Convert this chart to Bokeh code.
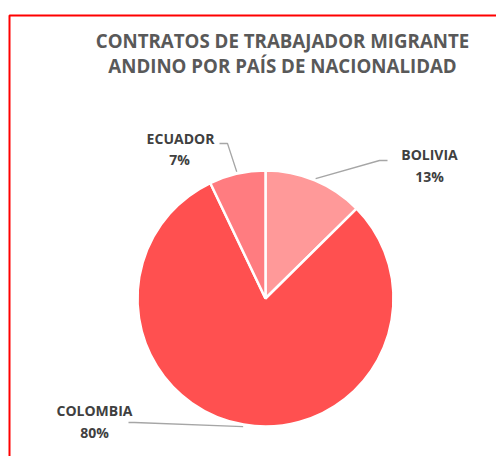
import math
from bokeh.plotting import figure
from bokeh.models import Range1d, ColumnDataSource
from bokeh.core.properties import value
from bokeh.embed import file_html
from bokeh.resources import INLINE

# ---- data ----
countries = ["BOLIVIA", "COLOMBIA", "ECUADOR"]
shares = [12.6, 80.3, 7.1]
colors = ["#FF9999", "#FF5050", "#FF7C80"]
title_lines = ["CONTRATOS DE TRABAJADOR MIGRANTE", "ANDINO POR PAÍS DE NACIONALIDAD"]

# ---- layout (pixel-like units) ----
W, H = 496, 456
FONT = "Open Sans"

def pg(px, py):
    return px, H - py

CX, CY = pg(265, 298)
R = 128

p = figure(width=W, height=H, output_backend="svg", toolbar_location=None,
           x_range=Range1d(0, W), y_range=Range1d(0, H), min_border=0,
           outline_line_color=None, background_fill_color="white",
           border_fill_color="white")
p.axis.visible = False
p.grid.visible = False

total = sum(shares)
starts, ends, mids = [], [], []
cum = 0.0
for s in shares:
    a0 = math.pi / 2 - 2 * math.pi * cum / total
    cum += s
    a1 = math.pi / 2 - 2 * math.pi * cum / total
    starts.append(a0)
    ends.append(a1)
    mids.append((a0 + a1) / 2)

src = ColumnDataSource(dict(start=starts, end=ends, color=colors))
p.wedge(x=CX, y=CY, radius=R, start_angle="start", end_angle="end",
        direction="clock", fill_color="color", line_color="white",
        line_width=2.5, source=src)

# label positions (page coords) and leader elbows
label_pos = {
    "BOLIVIA": ((429, 154), (429, 176), [(379, 160), (387, 160)]),
    "COLOMBIA": ((94, 410), (94, 432), [(134, 422), (128, 422)]),
    "ECUADOR": ((180, 138), (179, 159), [(227, 143), (219, 143)]),
}
for name, sh, mid in zip(countries, shares, mids):
    (nx, ny), (qx, qy), elbow = label_pos[name]
    sx = CX + 130 * math.cos(mid)
    sy = CY + 130 * math.sin(mid)
    xs = [sx] + [pg(*e)[0] for e in elbow]
    ys = [sy] + [pg(*e)[1] for e in elbow]
    p.line(xs, ys, line_color="#A6A6A6", line_width=1.3)
    x1, y1 = pg(nx, ny)
    x2, y2 = pg(qx, qy)
    p.text(x=[x1, x2], y=[y1, y2], text=[name, f"{round(sh)}%"],
           text_align="center", text_baseline="middle",
           text_font=value(FONT), text_font_style="bold",
           text_font_size="14px", text_color="#404040")

tx, ty1 = pg(282, 40)
_, ty2 = pg(282, 65)
p.text(x=[tx, tx], y=[ty1, ty2], text=title_lines,
       text_align="center", text_baseline="middle",
       text_font=value(FONT), text_font_style="bold",
       text_font_size="18.7px", text_color="#595959")

# red chart-area border: only its left and top edges are inside the view
bx, by = pg(9, 15)
p.line([bx, bx, W], [0, by, by], line_color="#FF0000", line_width=2)

open("out.html", "w").write(file_html(p, INLINE))
